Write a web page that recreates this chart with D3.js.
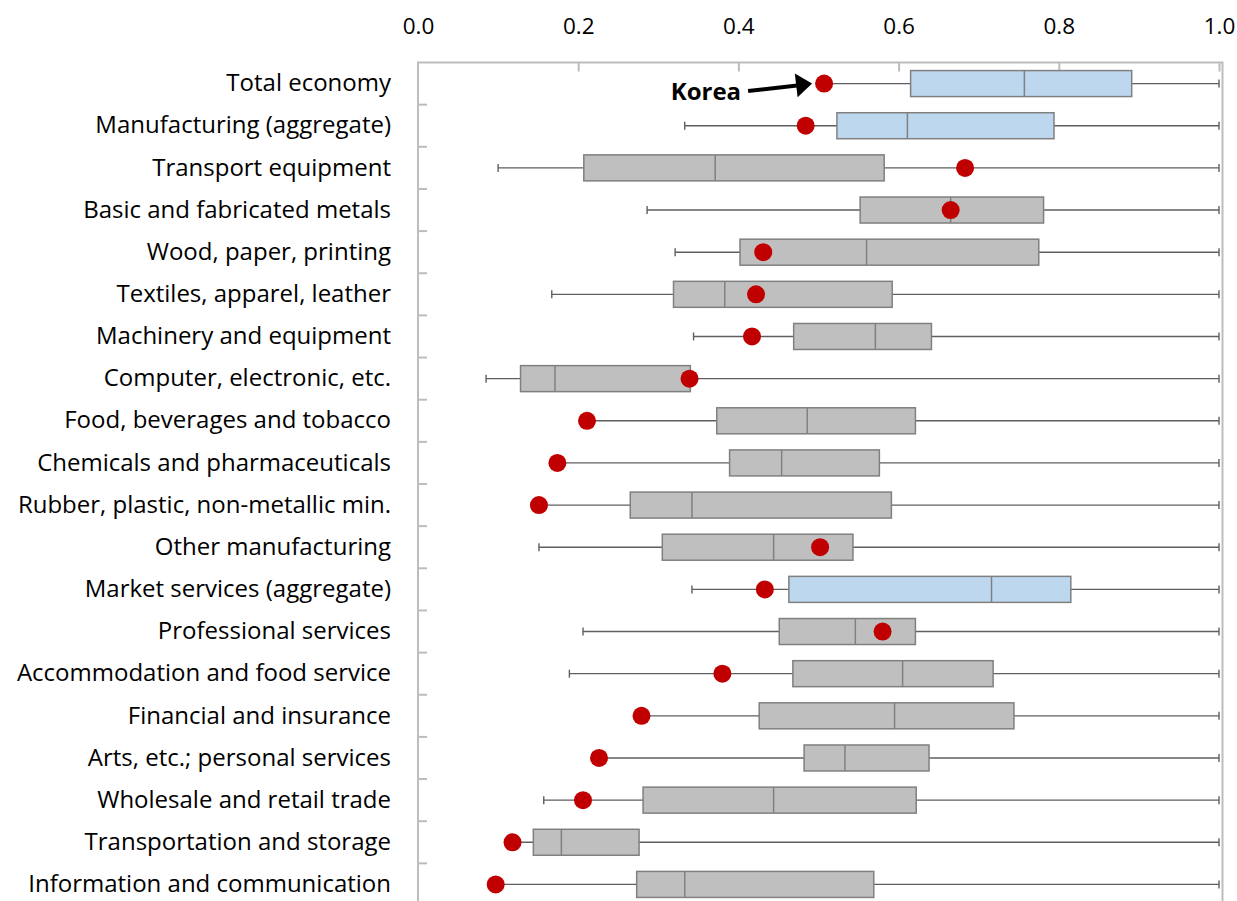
<!DOCTYPE html>
<html>
<head>
<meta charset="utf-8">
<script src="https://cdn.jsdelivr.net/npm/d3@7/dist/d3.min.js"></script>
<style>
  html, body { margin: 0; padding: 0; background: #fff; }
  svg { display: block; }
  text { font-family: "Open Sans", "Noto Sans", sans-serif; fill: #000; }
</style>
</head>
<body>
<svg id="chart" width="1237" height="901"></svg>
<script>
// Industries, top to bottom
const categories = [
  "Total economy",
  "Manufacturing (aggregate)",
  "Transport equipment",
  "Basic and fabricated metals",
  "Wood, paper, printing",
  "Textiles, apparel, leather",
  "Machinery and equipment",
  "Computer, electronic, etc.",
  "Food, beverages and tobacco",
  "Chemicals and pharmaceuticals",
  "Rubber, plastic, non-metallic min.",
  "Other manufacturing",
  "Market services (aggregate)",
  "Professional services",
  "Accommodation and food service",
  "Financial and insurance",
  "Arts, etc.; personal services",
  "Wholesale and retail trade",
  "Transportation and storage",
  "Information and communication"
];

// Aggregate rows get the blue boxes
const aggregateRows = ["Total economy", "Manufacturing (aggregate)", "Market services (aggregate)"];

// Distribution across countries: whisker min, quartiles, whisker max
const minValues    = [0.507, 0.333, 0.100, 0.286, 0.321, 0.167, 0.344, 0.085, 0.211, 0.174, 0.151, 0.151, 0.342, 0.206, 0.189, 0.279, 0.226, 0.157, 0.118, 0.097];
const q1Values     = [0.615, 0.523, 0.207, 0.552, 0.402, 0.319, 0.469, 0.128, 0.373, 0.389, 0.265, 0.305, 0.463, 0.451, 0.468, 0.426, 0.482, 0.281, 0.144, 0.273];
const medianValues = [0.757, 0.611, 0.371, 0.665, 0.560, 0.383, 0.571, 0.171, 0.486, 0.454, 0.342, 0.444, 0.716, 0.546, 0.605, 0.595, 0.533, 0.444, 0.179, 0.333];
const q3Values     = [0.891, 0.794, 0.582, 0.781, 0.775, 0.592, 0.641, 0.340, 0.621, 0.576, 0.591, 0.543, 0.815, 0.621, 0.718, 0.744, 0.638, 0.622, 0.276, 0.569];
const maxValues    = [1.0, 1.0, 1.0, 1.0, 1.0, 1.0, 1.0, 1.0, 1.0, 1.0, 1.0, 1.0, 1.0, 1.0, 1.0, 1.0, 1.0, 1.0, 1.0, 1.0];

// Korea's value in each industry
const koreaValues  = [0.507, 0.484, 0.683, 0.665, 0.431, 0.422, 0.417, 0.339, 0.211, 0.174, 0.151, 0.502, 0.433, 0.580, 0.380, 0.279, 0.226, 0.206, 0.118, 0.097];

const tickValues = [0.0, 0.2, 0.4, 0.6, 0.8, 1.0];

const rows = categories.map((c, i) => ({
  name: c,
  min: minValues[i], q1: q1Values[i], median: medianValues[i],
  q3: q3Values[i], max: maxValues[i], korea: koreaValues[i],
  aggregate: aggregateRows.includes(c)
}));

const svg = d3.select("#chart");
const frameColor = "#bdbdbd";
const labelSize = 24;
const tickSize = 22.5;

const x = d3.scaleLinear().domain([0, 1]).range([418, 1219]);
const y = d3.scaleBand().domain(categories).range([62.5, 905.5]).padding(0);
const bh = y.bandwidth();
const boxH = 26;

// Plot frame
svg.append("rect")
  .attr("x", x(0)).attr("y", y.range()[0])
  .attr("width", 1222.5 - x(0)).attr("height", y.range()[1] - y.range()[0])
  .attr("fill", "none").attr("stroke", frameColor).attr("stroke-width", 2);

// Top axis labels
const topAxis = svg.append("g")
  .attr("transform", `translate(0,${y.range()[0]})`)
  .call(d3.axisTop(x).tickValues(tickValues).tickFormat(d3.format(".1f")).tickSize(0).tickPadding(29));
topAxis.select(".domain").remove();
topAxis.selectAll("text").attr("font-size", tickSize).attr("font-family", null);

// Inward tick marks along the top edge
const topTicks = svg.append("g")
  .attr("transform", `translate(0,${y.range()[0]})`)
  .call(d3.axisTop(x).tickValues(tickValues.slice(1)).tickFormat("").tickSize(-9));
topTicks.select(".domain").remove();
topTicks.selectAll("line").attr("stroke", frameColor).attr("stroke-width", 2);

// Category labels
const leftAxis = svg.append("g")
  .attr("transform", `translate(${x(0)},0)`)
  .call(d3.axisLeft(y).tickSize(0).tickPadding(27));
leftAxis.select(".domain").remove();
leftAxis.selectAll("text").attr("font-size", labelSize).attr("font-family", null);

// Tick marks between categories on the left edge
svg.append("g").selectAll("line")
  .data(categories.slice(0, -1))
  .join("line")
  .attr("x1", x(0)).attr("x2", x(0) + 9)
  .attr("y1", d => y(d) + bh).attr("y2", d => y(d) + bh)
  .attr("stroke", frameColor).attr("stroke-width", 2);

// Box plots
const g = svg.append("g").selectAll("g")
  .data(rows)
  .join("g")
  .attr("transform", d => `translate(0,${y(d.name) + bh / 2})`);

const whiskerColor = "#5f5f5f";
g.append("line")
  .attr("x1", d => x(d.min)).attr("x2", d => x(d.max))
  .attr("stroke", whiskerColor).attr("stroke-width", 1.4);
g.filter(d => d.min < d.korea).append("line")
  .attr("x1", d => x(d.min)).attr("x2", d => x(d.min))
  .attr("y1", -4).attr("y2", 4)
  .attr("stroke", whiskerColor).attr("stroke-width", 1.4);
g.append("line")
  .attr("x1", d => x(d.max)).attr("x2", d => x(d.max))
  .attr("y1", -4).attr("y2", 4)
  .attr("stroke", whiskerColor).attr("stroke-width", 1.4);

g.append("rect")
  .attr("x", d => x(d.q1)).attr("width", d => x(d.q3) - x(d.q1))
  .attr("y", -boxH / 2).attr("height", boxH)
  .attr("fill", d => d.aggregate ? "#bdd7ee" : "#bfbfbf")
  .attr("stroke", "#808080").attr("stroke-width", 1.5);
g.append("line")
  .attr("x1", d => x(d.median)).attr("x2", d => x(d.median))
  .attr("y1", -boxH / 2).attr("y2", boxH / 2)
  .attr("stroke", "#808080").attr("stroke-width", 1.5);

g.append("circle")
  .attr("cx", d => x(d.korea)).attr("r", 9)
  .attr("fill", "#c00000");

// Korea callout on the first row
const firstRow = rows[0];
const cy0 = y(firstRow.name) + bh / 2;
const tip = [x(firstRow.korea) - 12, cy0];
const tail = [tip[0] - 64, cy0 + 7.5];
const ang = Math.atan2(tip[1] - tail[1], tip[0] - tail[0]);
const headLen = 16, headHalf = 12;
const base = [tip[0] - headLen * Math.cos(ang), tip[1] - headLen * Math.sin(ang)];
const nx = -Math.sin(ang), ny = Math.cos(ang);

svg.append("line")
  .attr("x1", tail[0]).attr("y1", tail[1])
  .attr("x2", base[0] + 1).attr("y2", base[1])
  .attr("stroke", "#000").attr("stroke-width", 4);
svg.append("path")
  .attr("d", d3.line()([
    tip,
    [base[0] + nx * headHalf, base[1] + ny * headHalf],
    [base[0] - nx * headHalf, base[1] - ny * headHalf]
  ]) + "Z")
  .attr("fill", "#000");
svg.append("text")
  .attr("x", tail[0] - 7).attr("y", cy0 + 16)
  .attr("text-anchor", "end")
  .attr("font-size", 24).attr("font-weight", "bold")
  .text("Korea");
</script>
</body>
</html>
